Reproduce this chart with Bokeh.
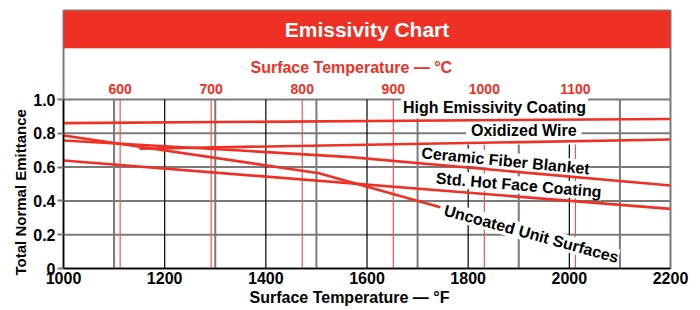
import math
from bokeh.plotting import figure
from bokeh.models import Range1d, FixedTicker, Label, BoxAnnotation, Title
from bokeh.core.properties import value
from bokeh.embed import file_html
from bokeh.resources import INLINE

# ---------------- data ----------------
title_text = "Emissivity Chart"
x_title = "Surface Temperature \u2014 °F"
c_title = "Surface Temperature \u2014 °C"
y_title = "Total Normal Emittance"

f_ticks = [1000, 1200, 1400, 1600, 1800, 2000, 2200]
f_grid_gray = [1100, 1300, 1500, 1700, 1900, 2100]
f_grid_black = [1200, 1400, 1600, 1800, 2000]
e_ticks = [0, 0.2, 0.4, 0.6, 0.8, 1.0]
e_tick_labels = ["0", "0.2", "0.4", "0.6", "0.8", "1.0"]
c_ticks = [600, 700, 800, 900, 1000, 1100]

high_emis_f = [1000, 2200]
high_emis_e = [0.86, 0.885]
oxid_f = [1150, 2200]
oxid_e = [0.709, 0.763]
ceramic_f = [1000, 1350, 1568, 2200]
ceramic_e = [0.757, 0.698, 0.659, 0.491]
stdhot_f = [1000, 2200]
stdhot_e = [0.639, 0.353]
uncoated_f = [1000, 1505, 1745]
uncoated_e = [0.787, 0.564, 0.363]

series_names = ["High Emissivity Coating", "Oxidized Wire", "Ceramic Fiber Blanket",
                "Std. Hot Face Coating", "Uncoated Unit Surfaces"]

# ---------------- styles / layout ----------------
RED = "#ee3124"
RED_THIN = "#f0564a"
GRAY = "#7a7a7a"
FONT = "Liberation Sans"
Y_TOP = 258 / 169.0
BAND_BOTTOM = (268 - 47.7) / 169.0

p = figure(width=700, height=310, output_backend="svg", toolbar_location=None,
           x_range=Range1d(1000, 2200), y_range=Range1d(0, Y_TOP),
           min_border_left=63, min_border_right=30, min_border_top=10, min_border_bottom=42)
p.grid.visible = False
p.background_fill_color = "white"
p.border_fill_color = "white"
p.outline_line_color = GRAY
p.outline_line_width = 2

# title band
band = BoxAnnotation(bottom=BAND_BOTTOM, fill_color=RED, fill_alpha=1.0, line_color=None, level="underlay")
p.add_layout(band)
p.add_layout(Label(x=1600, y=1.414, text=title_text, text_align="center", text_baseline="middle",
                   text_color="white", text_font=FONT, text_font_style="bold", text_font_size="21px"))

# grid lines
p.segment(x0=[1000] * 5, y0=e_ticks[1:], x1=[2200] * 5, y1=e_ticks[1:],
          line_color=GRAY, line_width=2, level="underlay")
p.segment(x0=f_grid_gray, y0=[0] * len(f_grid_gray), x1=f_grid_gray, y1=[1.0] * len(f_grid_gray),
          line_color=GRAY, line_width=2, level="underlay")
p.segment(x0=f_grid_black, y0=[0] * len(f_grid_black), x1=f_grid_black, y1=[1.0] * len(f_grid_black),
          line_color="black", line_width=1.2, level="underlay")

# celsius reference lines
c_as_f = [c * 1.8 + 32 for c in c_ticks]
p.segment(x0=c_as_f, y0=[0] * len(c_as_f), x1=c_as_f, y1=[1.0] * len(c_as_f),
          line_color=RED_THIN, line_width=1.2, level="underlay")
p.text(x=c_as_f, y=[1.063] * len(c_as_f), text=[str(c) for c in c_ticks],
       text_align="center", text_baseline="middle", text_color=RED,
       text_font=value(FONT), text_font_style="bold", text_font_size="14px")
p.add_layout(Label(x=1569, y=1.189, text=c_title, text_align="center", text_baseline="middle",
                   text_color=RED, text_font=FONT, text_font_style="bold", text_font_size="16px"))

# series label annotations (white background)
label_specs = [
    (series_names[0], 1852, 0.950, 0.0, 2),
    (series_names[1], 1910, 0.814, 0.0, 5),
    (series_names[2], 1874, 0.637, -5.5, 0),
    (series_names[3], 1900, 0.494, -4.8, 0),
    (series_names[4], 1925, 0.205, -15.4, 0),
]
for txt, lx, ly, ang, pad in label_specs:
    p.add_layout(Label(x=lx, y=ly, text=txt, angle=math.radians(ang), text_align="center",
                       text_baseline="middle", text_color="black", text_font=FONT,
                       text_font_style="bold", text_font_size="16px",
                       background_fill_color="white", background_fill_alpha=1.0,
                       padding=pad, level="underlay"))

# series lines
for xs, ys in [(high_emis_f, high_emis_e), (oxid_f, oxid_e), (ceramic_f, ceramic_e),
               (stdhot_f, stdhot_e), (uncoated_f, uncoated_e)]:
    p.line(xs, ys, line_color=RED, line_width=2.6)

# axes
p.xaxis.ticker = FixedTicker(ticks=f_ticks)
p.xaxis.major_tick_out = 0
p.xaxis.major_tick_in = 0
p.xaxis.minor_tick_out = 0
p.xaxis.minor_tick_in = 0
p.xaxis.major_label_standoff = 3
p.xaxis.major_label_text_font = FONT
p.xaxis.major_label_text_font_style = "bold"
p.xaxis.major_label_text_font_size = "16px"
p.xaxis.major_label_text_color = "black"
p.xaxis.axis_line_color = "black"
p.xaxis.axis_line_width = 1.5

p.yaxis.ticker = FixedTicker(ticks=e_ticks)
p.yaxis.major_label_overrides = {t: s for t, s in zip(e_ticks, e_tick_labels)}
p.yaxis.bounds = (0, 1.0)
p.yaxis.major_tick_out = 6
p.yaxis.major_tick_in = 0
p.yaxis.minor_tick_out = 0
p.yaxis.minor_tick_in = 0
p.yaxis.major_tick_line_color = GRAY
p.yaxis.major_tick_line_width = 2
p.yaxis.major_label_standoff = 2
p.yaxis.major_label_text_font = FONT
p.yaxis.major_label_text_font_style = "bold"
p.yaxis.major_label_text_font_size = "16px"
p.yaxis.major_label_text_color = "black"
p.yaxis.axis_line_color = "black"
p.yaxis.axis_line_width = 1.5

# axis titles as side titles (left-aligned with an offset to match placement)
p.add_layout(Title(text=x_title, align="left", offset=186, standoff=0,
                   text_font=FONT, text_font_style="bold", text_font_size="16px",
                   text_color="black"), "below")
p.add_layout(Title(text=y_title, align="left", offset=-7, standoff=4,
                   text_font=FONT, text_font_style="bold", text_font_size="15px",
                   text_color="black"), "left")

open("out.html", "w").write(file_html(p, INLINE))
